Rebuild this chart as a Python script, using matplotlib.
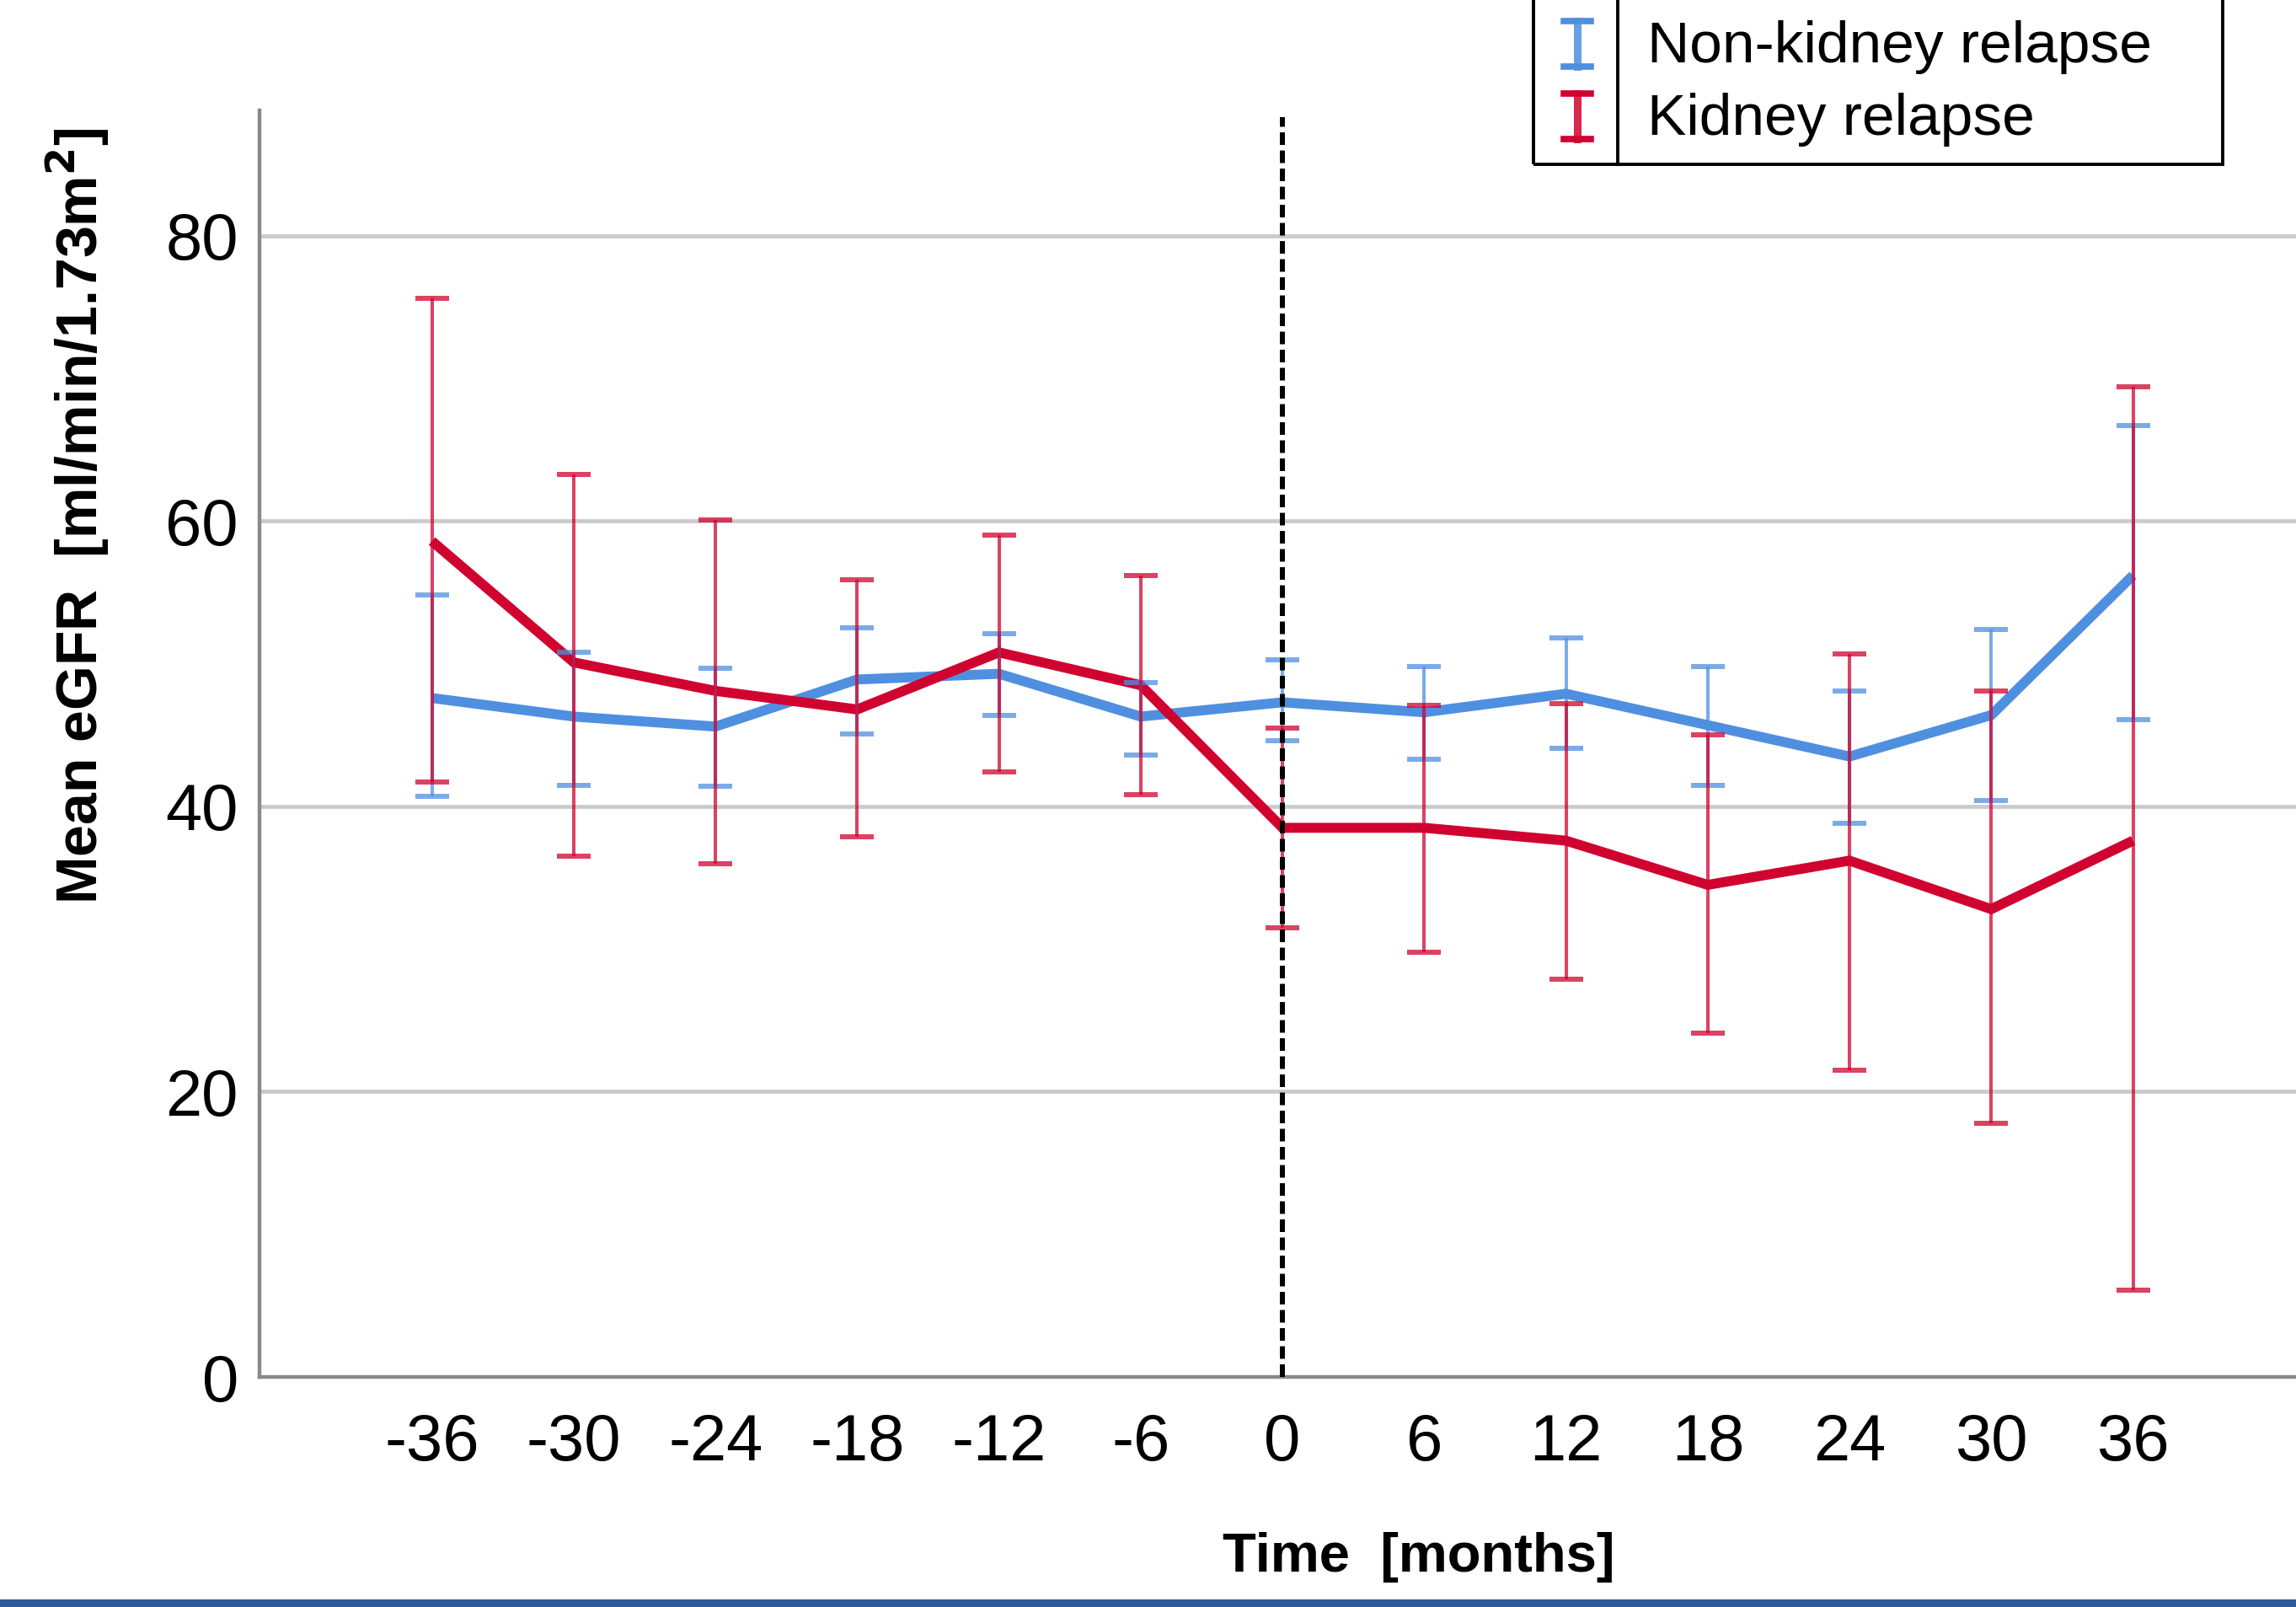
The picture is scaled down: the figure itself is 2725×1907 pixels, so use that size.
import numpy as np
import matplotlib
matplotlib.use("Agg")
import matplotlib.pyplot as plt
from matplotlib.patches import Rectangle
from matplotlib.lines import Line2D

plt.rcParams['font.family'] = ['Liberation Sans', 'DejaVu Sans']

# months relative to relapse
months = [-36, -30, -24, -18, -12, -6, 0, 6, 12, 18, 24, 30, 36]

# non-kidney relapse: mean and 95% CI
nk_mean = [47.6, 46.3, 45.6, 48.9, 49.3, 46.3, 47.3, 46.6, 47.9, 45.7, 43.5, 46.4, 56.2]
nk_low  = [40.7, 41.5, 41.4, 45.1, 46.4, 43.6, 44.6, 43.3, 44.1, 41.5, 38.8, 40.4, 46.1]
nk_high = [54.8, 50.8, 49.7, 52.5, 52.1, 48.7, 50.3, 49.8, 51.8, 49.8, 48.1, 52.4, 66.7]

# kidney relapse: mean and 95% CI
k_mean = [58.6, 50.1, 48.1, 46.8, 50.8, 48.5, 38.5, 38.5, 37.6, 34.5, 36.2, 32.8, 37.6]
k_low  = [41.7, 36.5, 36.0, 37.9, 42.4, 40.8, 31.5, 29.8, 27.9, 24.1, 21.5, 17.8, 6.1]
k_high = [75.6, 63.3, 60.1, 55.9, 59.0, 56.2, 45.5, 47.1, 47.2, 45.0, 50.7, 48.1, 69.4]

series_names = ['Non-kidney relapse', 'Kidney relapse']
yticks = [0, 20, 40, 60, 80]

BLUE = '#4F8FE0'
RED = '#D0022F'

W, H = 2725, 1907
fig = plt.figure(figsize=(W / 100, H / 100), dpi=100)
ax = fig.add_axes([308 / W, 1 - 1634 / H, (W - 308) / W, (1634 - 131) / H])

x = np.array(months)
for mean, lo, hi, col, z in [(nk_mean, nk_low, nk_high, BLUE, 3),
                             (k_mean, k_low, k_high, RED, 4)]:
    mean = np.array(mean)
    yerr = [mean - np.array(lo), np.array(hi) - mean]
    ax.errorbar(x, mean, yerr=yerr, fmt='none', ecolor=col, elinewidth=2.9,
                capsize=14.5, capthick=4.3, alpha=0.75, zorder=z + 2)
    ax.plot(x, mean, color=col, lw=8.5, solid_capstyle='butt',
            solid_joinstyle='miter', zorder=z)

ax.axvline(0, ymin=0, ymax=0.995, color='black', lw=4.3, ls=(0, (2.5, 1.1)), zorder=10)

ax.set_xlim(-43.3, 42.9)
ax.set_ylim(0, 88.8)
ax.set_xticks(months)
ax.set_xticklabels([str(m) for m in months])
ax.set_yticks(yticks)
ax.tick_params(length=0, labelsize=56)
ax.tick_params(axis='x', pad=30)
ax.tick_params(axis='y', pad=18)

ax.yaxis.grid(True, color='#CACACA', lw=3.4)
ax.set_axisbelow(True)
for s in ['top', 'right']:
    ax.spines[s].set_visible(False)
for s in ['left', 'bottom']:
    ax.spines[s].set_color('#8A8A8A')
    ax.spines[s].set_linewidth(3.2)

fig.text(1684 / W, 1 - 1848 / H, 'Time  [months]', fontsize=47, fontweight='bold',
         ha='center', va='center')
fig.text(92 / W, 1 - 612 / H, 'Mean eGFR  [ml/min/1.73m$^\\mathbf{2}$]', fontsize=49,
         fontweight='bold', rotation=90, ha='center', va='center')

# legend box (runs off the top of the figure)
lx0, lx1, ly0 = 1820, 2638, 195
fig.add_artist(Rectangle((lx0 / W, 1 - ly0 / H), (lx1 - lx0) / W, ly0 / H + 0.05,
                         transform=fig.transFigure, fill=False, ec='black', lw=2.8))
fig.add_artist(Line2D([1920 / W, 1920 / W], [1 - ly0 / H, 1.01], transform=fig.transFigure,
                      color='black', lw=2.8))
for name, col, yc in [(series_names[0], BLUE, 52), (series_names[1], RED, 138)]:
    xc = 1872 / W
    y0, y1 = 1 - (yc - 27) / H, 1 - (yc + 27) / H
    fig.add_artist(Line2D([xc, xc], [y0, y1], transform=fig.transFigure, color=col,
                          lw=6.5, alpha=0.85))
    for yy in (y0, y1):
        fig.add_artist(Line2D([xc - 16 / W, xc + 16 / W], [yy, yy], transform=fig.transFigure,
                              color=col, lw=5.5))
    fig.text(1955 / W, 1 - (yc + 4) / H, name, fontsize=50, ha='left', va='center')

# blue rule along the bottom edge
fig.add_artist(Rectangle((0, 0), 1, 9 / H, transform=fig.transFigure, color='#2E5A9C', lw=0))

fig.savefig('out.png', dpi=100)
